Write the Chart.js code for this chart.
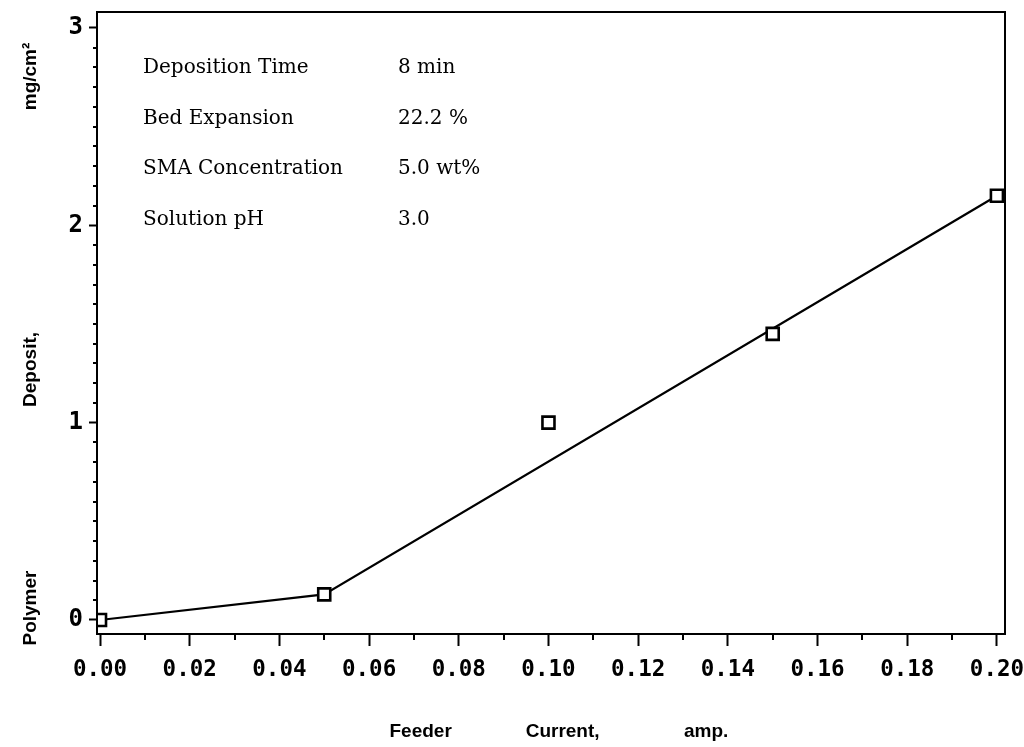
<!DOCTYPE html>
<html lang="en">
<head>
    <meta charset="UTF-8">
    <title>Polymer Deposit vs Feeder Current</title>
    <script src="https://cdn.jsdelivr.net/npm/chart.js"></script>
    <style>
        html, body { margin: 0; padding: 0; background: #fff; }
        #wrap { width: 1024px; height: 747px; position: relative; }
    </style>
</head>
<body>
    <div id="wrap"><canvas id="depositChart" width="1024" height="747"></canvas></div>

    <script>
        // measured points
        const currentAmp = [0.00, 0.05, 0.10, 0.15, 0.20];
        const depositMg = [0.00, 0.13, 1.00, 1.45, 2.15];

        // drawn fit line
        const fitX = [0.00, 0.05, 0.20];
        const fitY = [0.00, 0.13, 2.15];

        const xTicks = [0.00, 0.02, 0.04, 0.06, 0.08, 0.10, 0.12, 0.14, 0.16, 0.18, 0.20];
        const xMinorTicks = [0.01, 0.03, 0.05, 0.07, 0.09, 0.11, 0.13, 0.15, 0.17, 0.19];
        const yTicks = [0, 1, 2, 3];
        const yMinorTicks = [0.1, 0.2, 0.3, 0.4, 0.5, 0.6, 0.7, 0.8, 0.9,
                             1.1, 1.2, 1.3, 1.4, 1.5, 1.6, 1.7, 1.8, 1.9,
                             2.1, 2.2, 2.3, 2.4, 2.5, 2.6, 2.7, 2.8, 2.9];

        const conditionLabels = ['Deposition Time', 'Bed Expansion', 'SMA Concentration', 'Solution pH'];
        const conditionValues = ['8 min', '22.2 %', '5.0 wt%', '3.0'];

        const titleFont = { family: 'Arial, "Liberation Sans", sans-serif', size: 19, weight: 'bold' };

        // box round the plot, minor ticks and the conditions text
        const framePlugin = {
            id: 'frame',
            afterDraw(chart) {
                const ctx = chart.ctx;
                const a = chart.chartArea;
                const xs = chart.scales.x, ys = chart.scales.y;
                ctx.save();
                ctx.strokeStyle = '#000';
                ctx.lineWidth = 2;
                ctx.strokeRect(a.left, a.top, a.right - a.left, a.bottom - a.top);

                ctx.beginPath();
                xMinorTicks.forEach(v => {
                    const px = Math.round(xs.getPixelForValue(v));
                    ctx.moveTo(px, a.bottom);
                    ctx.lineTo(px, a.bottom + 6);
                });
                yMinorTicks.forEach(v => {
                    const py = Math.round(ys.getPixelForValue(v));
                    ctx.moveTo(a.left, py);
                    ctx.lineTo(a.left - 4, py);
                });
                ctx.stroke();

                ctx.fillStyle = '#000';
                ctx.font = '20px "DejaVu Serif"';
                ctx.textBaseline = 'middle';
                ctx.textAlign = 'left';
                conditionLabels.forEach((t, i) => {
                    const y = 68 + i * 50.5;
                    ctx.fillText(t, 143, y);
                    ctx.fillText(conditionValues[i], 398, y);
                });
                ctx.restore();
            }
        };

        new Chart(document.getElementById('depositChart'), {
            type: 'scatter',
            data: {
                datasets: [
                    {
                        label: 'Measured',
                        data: currentAmp.map((x, i) => ({ x: x, y: depositMg[i] })),
                        pointStyle: 'rect',
                        pointRadius: 8.5,
                        pointBorderWidth: 2.6,
                        pointBorderColor: '#000',
                        pointBackgroundColor: '#fff',
                        showLine: false
                    },
                    {
                        label: 'Fit',
                        data: fitX.map((x, i) => ({ x: x, y: fitY[i] })),
                        showLine: true,
                        borderColor: '#000',
                        borderWidth: 2.2,
                        pointRadius: 0,
                        fill: false
                    }
                ]
            },
            options: {
                responsive: false,
                animation: false,
                devicePixelRatio: 1,
                layout: { padding: { top: 12, right: 19, left: 0, bottom: 0 } },
                plugins: {
                    legend: { display: false },
                    tooltip: { enabled: false }
                },
                scales: {
                    x: {
                        type: 'linear',
                        min: -0.00067,
                        max: 0.2018,
                        afterBuildTicks: s => { s.ticks = xTicks.map(v => ({ value: v })); },
                        afterFit: s => { s.height = 113; s.paddingLeft = 0; s.paddingRight = 0; },
                        grid: {
                            drawOnChartArea: false,
                            drawTicks: true,
                            tickLength: 12,
                            tickWidth: 2,
                            tickColor: '#000'
                        },
                        border: { display: true, color: '#000', width: 2 },
                        ticks: {
                            color: '#000',
                            font: { family: 'DejaVu Sans Mono', size: 22.5, weight: 'bold' },
                            padding: 11,
                            maxRotation: 0,
                            autoSkip: false,
                            callback: v => v.toFixed(2)
                        },
                        title: {
                            display: true,
                            text: '   Feeder              Current,                amp.',
                            color: '#000',
                            font: titleFont,
                            padding: { top: 4, bottom: 4 }
                        }
                    },
                    y: {
                        type: 'linear',
                        min: -0.071,
                        max: 3.081,
                        afterBuildTicks: s => { s.ticks = yTicks.map(v => ({ value: v })); },
                        afterFit: s => { s.width = 97; s.paddingTop = 0; s.paddingBottom = 0; },
                        grid: {
                            drawOnChartArea: false,
                            drawTicks: true,
                            tickLength: 8,
                            tickWidth: 2,
                            tickColor: '#000'
                        },
                        border: { display: true, color: '#000', width: 2 },
                        ticks: {
                            color: '#000',
                            font: { family: 'DejaVu Sans Mono', size: 24, weight: 'bold' },
                            padding: 6,
                            autoSkip: false,
                            callback: v => String(v)
                        },
                        title: {
                            display: true,
                            text: 'Polymer                               Deposit,                                          mg/cm\u00B2        ',
                            color: '#000',
                            font: titleFont,
                            padding: { top: 19, bottom: 19 }
                        }
                    }
                }
            },
            plugins: [framePlugin]
        });
    </script>
</body>
</html>
